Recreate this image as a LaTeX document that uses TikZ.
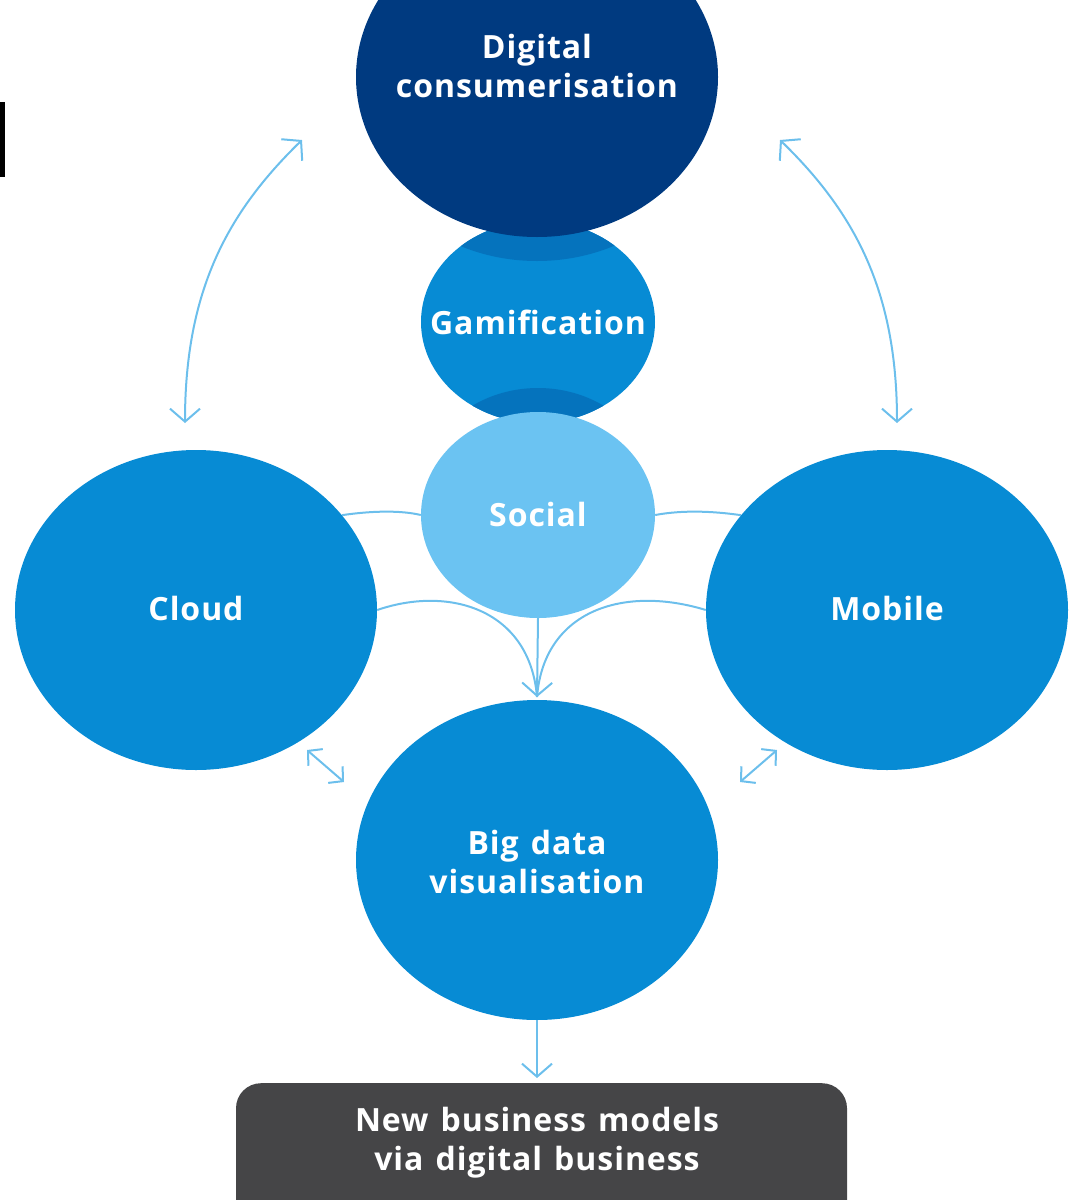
\documentclass[tikz,border=0pt]{standalone}
\usepackage{fontspec}
\setmainfont{Open Sans}[LetterSpace=3,WordSpace=1.3]
\usetikzlibrary{shapes.geometric,arrows.meta}

\definecolor{navy}{HTML}{003A80}
\definecolor{midblue}{HTML}{078BD4}
\definecolor{lightblue}{HTML}{6BC3F2}
\definecolor{bandblue}{HTML}{0573BD}
\definecolor{linkblue}{HTML}{6CBFEC}
\definecolor{boxgray}{HTML}{454547}

\tikzset{
  bubble/.style={ellipse, inner sep=0pt, draw=none},
  label text/.style={text=white, align=center,
    font=\bfseries\fontsize{32}{39}\selectfont},
  link/.style={draw=linkblue, line width=2pt},
  barb/.tip={Straight Barb[length=13pt,width=30pt,line width=2pt]},
  smallbarb/.tip={Straight Barb[length=10pt,width=22pt,line width=2pt]}
}

\begin{document}
\begin{tikzpicture}[x=1pt,y=-1pt]
\useasboundingbox (0,0) rectangle (1080,1200);
\begin{scope}
\clip (0,0) rectangle (1080,1200);

% small black mark on the left edge
\fill[black] (0,102) rectangle (5,177);

% central column
\node[bubble, fill=midblue, minimum width=234pt, minimum height=202pt] (gam) at (538,322) {};
\begin{scope}
  \clip (538,322) ellipse [x radius=117pt, y radius=101pt];
  \fill[bandblue] (537,101) ellipse [x radius=181pt, y radius=160pt];
  \fill[bandblue] (538,491) ellipse [x radius=117pt, y radius=103pt];
\end{scope}
\node[bubble, fill=navy, minimum width=362pt, minimum height=320pt] (dig) at (537,77) {};
\node[bubble, fill=lightblue, minimum width=234pt, minimum height=206pt] (soc) at (538,515) {};

% side and lower bubbles
\node[bubble, fill=midblue, minimum width=362pt, minimum height=320pt] (cloud) at (196,610) {};
\node[bubble, fill=midblue, minimum width=362pt, minimum height=320pt] (mob) at (887,610) {};
\node[bubble, fill=midblue, minimum width=362pt, minimum height=320pt] (big) at (537,860) {};

% result box
\node[fill=boxgray, rounded corners=25pt, minimum width=611pt, minimum height=150pt,
      anchor=north, inner sep=0pt] (box) at (541.5,1083) {};

% labels
\node[label text] at (537,66) {Digital\\consumerisation};
\node[label text] at (538,322) {Gamification};
\node[label text] at (538,514) {Social};
\node[label text] at (196,608) {Cloud};
\node[label text] at (887,608) {Mobile};
\node[label text] at (537,862) {Big data\\visualisation};
\node[label text] at (537,1143) {New business models\\via digital business};

% arcs between the top bubble and the side bubbles
\coordinate (la) at (185,423);
\coordinate (lb) at (302,140);
\coordinate (ra) at (897,423);
\coordinate (rb) at (780,140);
\draw[link, barb-barb] (la) .. controls (185,290) and (228,212) .. (lb);
\draw[link, barb-barb] (ra) .. controls (897,290) and (854,212) .. (rb);

% social ties to the side bubbles
\draw[link] (cloud.33) .. controls (370,511) and (400,510) .. (soc.west);
\draw[link] (mob.147) .. controls (712,511) and (682,510) .. (soc.east);

% flows into big data
\coordinate (tip) at (537,697);
\draw[link] (cloud.east) .. controls (450,585) and (530,610) .. (tip);
\draw[link] (mob.west) .. controls (624,585) and (544,610) .. (tip);
\draw[link, -barb] (soc.south) -- (tip);

% short two-way arrows beside big data
\coordinate (cl1) at (307,750);
\coordinate (cl2) at (344,782);
\coordinate (mb1) at (740,782);
\coordinate (mb2) at (777,750);
\draw[link, smallbarb-smallbarb] (cl1) -- (cl2);
\draw[link, smallbarb-smallbarb] (mb1) -- (mb2);

% outcome arrow
\coordinate (out) at (537,1078);
\draw[link, -barb] (big.south) -- (out);
\end{scope}
\end{tikzpicture}
\end{document}
